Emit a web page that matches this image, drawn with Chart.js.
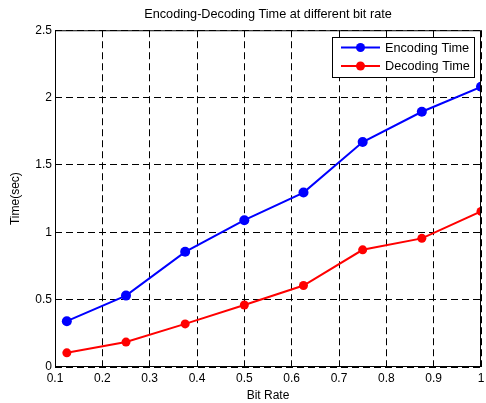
<!DOCTYPE html>
<html>
<head>
<meta charset="utf-8">
<script src="https://cdn.jsdelivr.net/npm/chart.js@4.4.1/dist/chart.umd.min.js"></script>
<style>
  html, body { margin: 0; padding: 0; background: #fff; }
  #wrap { width: 486px; height: 403px; }
</style>
</head>
<body>
<div id="wrap"><canvas id="chart" width="486" height="403"></canvas></div>
<script>
// values
const bitRates     = [0.125, 0.25, 0.375, 0.5, 0.625, 0.75, 0.875, 1];
const encodingTime = [0.34, 0.53, 0.855, 1.09, 1.295, 1.67, 1.895, 2.08];
const decodingTime = [0.105, 0.185, 0.32, 0.46, 0.605, 0.87, 0.955, 1.155];
const xTicks = [0.1, 0.2, 0.3, 0.4, 0.5, 0.6, 0.7, 0.8, 0.9, 1];
const yTicks = [0, 0.5, 1, 1.5, 2, 2.5];

const FONT = 'Liberation Sans, Arial, sans-serif';

function toPoints(xs, ys)
{
	return xs.map((x, i) => ({ x: x, y: ys[i] }));
}

// box round the axes plus a matlab style legend in the top right corner
const frameAndLegend = {
	id: 'frameAndLegend',
	afterDraw(chart)
	{
		const ctx = chart.ctx;
		const a = chart.chartArea;
		ctx.save();
		ctx.strokeStyle = '#000';
		ctx.lineWidth = 1;
		ctx.setLineDash([]);
		ctx.strokeRect(a.left + 0.5, a.top + 0.5, a.right - a.left - 1, a.bottom - a.top - 1);

		const boxW = 143, boxH = 41;
		const bx = Math.round(a.right - 6 - boxW), by = Math.round(a.top + 7);
		ctx.fillStyle = '#fff';
		ctx.fillRect(bx, by, boxW, boxH);
		ctx.strokeRect(bx + 0.5, by + 0.5, boxW - 1, boxH - 1);

		ctx.font = '12.7px ' + FONT;
		ctx.textBaseline = 'middle';
		chart.data.datasets.forEach((ds, i) => {
			const y = by + 10.5 + i * 18.5;
			ctx.strokeStyle = ds.borderColor;
			ctx.lineWidth = 2;
			ctx.beginPath();
			ctx.moveTo(bx + 9, y);
			ctx.lineTo(bx + 48, y);
			ctx.stroke();
			ctx.fillStyle = ds.backgroundColor;
			ctx.beginPath();
			ctx.arc(bx + 28.5, y, 4.5, 0, Math.PI * 2);
			ctx.fill();
			ctx.fillStyle = '#000';
			ctx.fillText(ds.label, bx + 53, y + 0.5);
		});
		ctx.restore();
	}
};

const data = {
	datasets: [
		{
			label: 'Encoding Time',
			data: toPoints(bitRates, encodingTime),
			borderColor: '#0000ff',
			backgroundColor: '#0000ff',
			borderWidth: 2,
			pointRadius: 5,
			pointBorderWidth: 0,
			tension: 0
		},
		{
			label: 'Decoding Time',
			data: toPoints(bitRates, decodingTime),
			borderColor: '#ff0000',
			backgroundColor: '#ff0000',
			borderWidth: 2,
			pointRadius: 4.5,
			pointBorderWidth: 0,
			tension: 0
		}
	]
};

const DASH = [7, 4];

const gridStyle = {
	color: '#000',
	lineWidth: 1,
	borderDash: DASH,
	drawTicks: false,
	tickLength: 0
};

const options = {
	responsive: false,
	animation: false,
	layout: { padding: { left: 0, right: 3, top: 0, bottom: 0 } },
	plugins: {
		legend: { display: false },
		tooltip: { enabled: false },
		title: {
			display: true,
			fullSize: false,
			text: 'Encoding-Decoding Time at different bit rate',
			color: '#000',
			font: { family: FONT, size: 12.7, weight: 'normal', lineHeight: 1.2 },
			padding: { top: 7, bottom: 8 }
		}
	},
	scales: {
		x: {
			type: 'linear',
			min: 0.1,
			max: 1,
			afterBuildTicks: s => { s.ticks = xTicks.map(v => ({ value: v })); },
			afterFit: s => { s.height = 36; s.paddingLeft = 0; s.paddingRight = 0; },
			border: { display: false, dash: DASH },
			grid: gridStyle,
			ticks: {
				color: '#000',
				padding: 4,
				maxRotation: 0,
				font: { family: FONT, size: 12 },
				callback: v => String(Math.round(v * 10) / 10)
			},
			title: {
				display: true,
				text: 'Bit Rate',
				color: '#000',
				font: { family: FONT, size: 12 },
				padding: { top: 0, bottom: 0 }
			}
		},
		y: {
			type: 'linear',
			min: 0,
			max: 2.5,
			afterBuildTicks: s => { s.ticks = yTicks.map(v => ({ value: v })); },
			afterFit: s => { s.width = 55; s.paddingTop = 0; s.paddingBottom = 0; },
			border: { display: false, dash: DASH },
			grid: gridStyle,
			ticks: {
				color: '#000',
				padding: 3,
				font: { family: FONT, size: 12 },
				callback: v => String(v)
			},
			title: {
				display: true,
				text: 'Time(sec)',
				color: '#000',
				font: { family: FONT, size: 12 },
				padding: { top: 8, bottom: 0 }
			}
		}
	}
};

new Chart(document.getElementById('chart'), {
	type: 'line',
	data: data,
	options: options,
	plugins: [frameAndLegend]
});
</script>
</body>
</html>
